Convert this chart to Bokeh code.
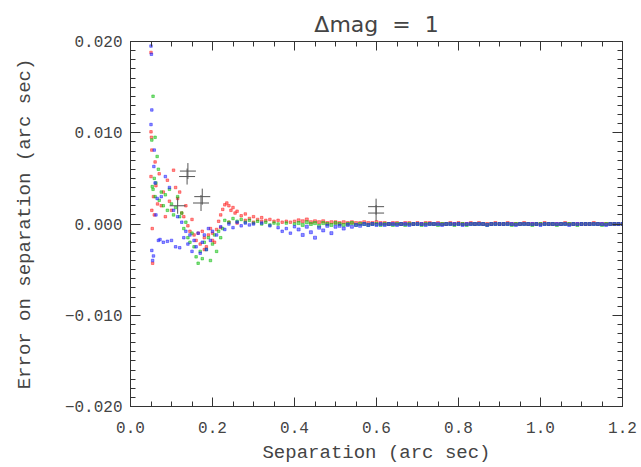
from bokeh.plotting import figure
from bokeh.models import LinearAxis, FixedTicker, CustomJSTickFormatter, Range1d
from bokeh.embed import file_html
from bokeh.resources import INLINE

# ---------------- data ----------------
red_x = [0.050, 0.050, 0.050, 0.051, 0.052, 0.052, 0.053, 0.054, 0.056, 0.058,
         0.060, 0.062, 0.066, 0.070, 0.075, 0.080, 0.085, 0.090, 0.095, 0.100,
         0.105, 0.110, 0.115, 0.120, 0.125, 0.130, 0.135, 0.140, 0.145, 0.150,
         0.155, 0.160, 0.165, 0.170, 0.175, 0.180, 0.185, 0.190, 0.195, 0.200,
         0.205, 0.210, 0.215, 0.220, 0.225, 0.230, 0.235, 0.240, 0.245, 0.250,
         0.255, 0.260, 0.270, 0.280, 0.290, 0.300, 0.310, 0.320, 0.330, 0.340,
         0.350, 0.360, 0.370, 0.380, 0.390, 0.400, 0.180, 0.200, 0.220, 0.240,
         0.260, 0.280, 0.300, 0.320]
red_y = [0.0188, 0.0101, 0.0052, 0.0095, 0.0081, 0.0015, -0.0005, -0.0043, 0.0030, 0.0010,
         0.0068, 0.0042, 0.0022, 0.0055, 0.0020, 0.0035, 0.0008, 0.0048, 0.0025, 0.0015,
         0.0059, 0.0040, 0.0028, 0.0035, 0.0012, 0.0008, 0.0020, -0.0002, -0.0008, 0.0005,
         -0.0012, -0.0018, -0.0010, -0.0022, -0.0008, -0.0015, -0.0025, -0.0012, -0.0005, -0.0010,
         -0.0020, -0.0006, 0.0003, 0.0010, 0.0016, 0.0021, 0.0023, 0.0020, 0.0015, 0.0018,
         0.0012, 0.0014, 0.0009, 0.0011, 0.0006, 0.0008, 0.0005, 0.0007, 0.0004, 0.0005,
         0.0003, 0.0004, 0.0002, 0.0003, 0.0002, 0.0003, -0.0028, -0.0018, -0.0004, 0.0002,
         0.0001, 0.0004, 0.0002, 0.0003]

green_x = [0.055, 0.052, 0.060, 0.053, 0.055, 0.058, 0.060, 0.062, 0.065, 0.068,
           0.070, 0.075, 0.080, 0.085, 0.090, 0.095, 0.100, 0.105, 0.110, 0.115,
           0.120, 0.125, 0.130, 0.135, 0.140, 0.145, 0.150, 0.155, 0.160, 0.165,
           0.170, 0.175, 0.180, 0.185, 0.190, 0.195, 0.200, 0.205, 0.210, 0.215,
           0.220, 0.225, 0.230, 0.240, 0.250, 0.260, 0.270, 0.280, 0.290, 0.300,
           0.310, 0.320, 0.330, 0.340, 0.350, 0.360, 0.380, 0.400]
green_y = [0.0140, 0.0092, 0.0095, 0.0041, 0.0038, 0.0050, 0.0030, 0.0045, 0.0074, 0.0060,
           0.0026, 0.0035, 0.0020, 0.0032, 0.0015, 0.0038, 0.0022, 0.0010, 0.0018, 0.0030,
           0.0008, 0.0012, -0.0005, 0.0002, -0.0015, -0.0020, -0.0010, -0.0025, -0.0036, -0.0043,
           -0.0030, -0.0038, -0.0020, -0.0028, -0.0015, -0.0040, -0.0022, -0.0012, -0.0030, -0.0008,
           -0.0015, -0.0005, 0.0004, 0.0002, 0.0006, 0.0003, 0.0005, 0.0002, 0.0004, 0.0001,
           0.0003, 0.0000, 0.0002, -0.0001, 0.0001, 0.0000, 0.0001, 0.0000]

blue_x = [0.050, 0.051, 0.052, 0.050, 0.052, 0.054, 0.056, 0.058, 0.057, 0.060,
          0.062, 0.065, 0.068, 0.072, 0.075, 0.080, 0.085, 0.090, 0.095, 0.100,
          0.105, 0.110, 0.115, 0.120, 0.125, 0.130, 0.135, 0.140, 0.145, 0.150,
          0.155, 0.160, 0.165, 0.170, 0.175, 0.180, 0.185, 0.190, 0.195, 0.200,
          0.210, 0.220, 0.230, 0.240, 0.250, 0.260, 0.270, 0.280, 0.290, 0.300,
          0.320, 0.340, 0.360, 0.370, 0.380, 0.390, 0.400]
blue_y = [0.0195, 0.0186, 0.0125, 0.0109, -0.0029, -0.0040, -0.0035, 0.0081, 0.0063, 0.0045,
          0.0010, 0.0028, -0.0018, -0.0017, 0.0030, -0.0020, 0.0052, -0.0019, 0.0040, -0.0018,
          0.0015, -0.0025, 0.0008, -0.0026, 0.0002, -0.0015, -0.0008, -0.0022, -0.0012, -0.0030,
          -0.0018, -0.0025, -0.0010, -0.0032, -0.0020, -0.0012, -0.0028, -0.0005, -0.0018, -0.0008,
          -0.0012, -0.0003, -0.0006, 0.0000, -0.0004, 0.0002, -0.0002, 0.0001, -0.0001, 0.0000,
          0.0001, -0.0002, -0.0004, -0.0008, -0.0005, -0.0010, -0.0003]

tail_x = [0.41, 0.42, 0.43, 0.44, 0.45, 0.46, 0.47, 0.48, 0.49, 0.50,
          0.51, 0.52, 0.53, 0.54, 0.55, 0.56, 0.57, 0.58, 0.59, 0.60,
          0.61, 0.62, 0.63, 0.64, 0.65, 0.66, 0.67, 0.68, 0.69, 0.70,
          0.71, 0.72, 0.73, 0.74, 0.75, 0.76, 0.77, 0.78, 0.79, 0.80,
          0.81, 0.82, 0.83, 0.84, 0.85, 0.86, 0.87, 0.88, 0.89, 0.90,
          0.91, 0.92, 0.93, 0.94, 0.95, 0.96, 0.97, 0.98, 0.99, 1.00,
          1.01, 1.02, 1.03, 1.04, 1.05, 1.06, 1.07, 1.08, 1.09, 1.10,
          1.11, 1.12, 1.13, 1.14, 1.15, 1.16, 1.17, 1.18, 1.19, 1.20]
red_tail = [0.0004, 0.0003, 0.0005, 0.0002, 0.0003, 0.0002, 0.0003, 0.0001, 0.0002, 0.0002,
            0.0001, 0.0002, 0.0001, 0.0002, 0.0001, 0.0001, 0.0002, 0.0001, 0.0001, 0.0002,
            0.0001, 0.0001, 0.0000, 0.0001, 0.0001, 0.0000, 0.0001, 0.0001, 0.0000, 0.0001,
            0.0000, 0.0001, 0.0001, 0.0000, 0.0001, 0.0000, 0.0000, 0.0001, 0.0000, 0.0001,
            0.0000, 0.0000, 0.0001, 0.0000, 0.0001, 0.0000, 0.0000, 0.0000, 0.0001, 0.0000,
            0.0000, 0.0001, 0.0000, 0.0000, 0.0000, 0.0001, 0.0000, 0.0000, 0.0000, 0.0000,
            0.0001, 0.0000, 0.0000, 0.0000, 0.0000, 0.0001, 0.0000, 0.0000, 0.0000, 0.0000,
            0.0000, 0.0000, 0.0001, 0.0000, 0.0000, 0.0000, 0.0000, 0.0000, 0.0000, 0.0000]
green_tail = [0.0001, -0.0001, 0.0002, 0.0000, 0.0001, -0.0002, 0.0001, 0.0000, -0.0001, 0.0001,
              0.0000, -0.0001, 0.0000, 0.0001, -0.0001, 0.0000, 0.0000, -0.0001, 0.0000, 0.0000,
              -0.0001, 0.0000, 0.0000, -0.0001, 0.0000, 0.0000, -0.0001, 0.0000, 0.0000, 0.0000,
              -0.0001, 0.0000, 0.0000, 0.0000, -0.0001, 0.0000, 0.0000, 0.0000, -0.0001, 0.0000,
              0.0000, -0.0001, 0.0000, 0.0000, 0.0000, 0.0000, -0.0001, 0.0000, 0.0000, 0.0000,
              0.0000, 0.0000, -0.0001, 0.0000, 0.0000, 0.0000, 0.0000, -0.0001, 0.0000, 0.0000,
              0.0000, 0.0000, 0.0000, -0.0001, 0.0000, 0.0000, 0.0000, 0.0000, -0.0001, 0.0000,
              0.0000, 0.0000, 0.0000, 0.0000, -0.0001, 0.0000, 0.0000, 0.0000, 0.0000, 0.0000]
blue_tail = [-0.0006, -0.0012, -0.0003, -0.0009, -0.0015, -0.0004, -0.0007, -0.0002, -0.0010, -0.0003,
             -0.0002, -0.0005, -0.0001, -0.0003, -0.0001, -0.0002, 0.0000, -0.0001, 0.0000, -0.0001,
             0.0000, -0.0001, 0.0000, 0.0000, -0.0001, 0.0000, 0.0000, -0.0001, 0.0000, 0.0000,
             0.0000, -0.0001, 0.0000, 0.0000, 0.0000, -0.0001, 0.0000, 0.0000, 0.0000, 0.0000,
             -0.0001, 0.0000, 0.0000, 0.0000, 0.0000, 0.0000, -0.0001, 0.0000, 0.0000, 0.0000,
             0.0000, 0.0000, 0.0000, -0.0001, 0.0000, 0.0000, 0.0000, 0.0000, 0.0000, -0.0001,
             0.0000, 0.0000, 0.0000, 0.0000, 0.0000, 0.0000, -0.0001, 0.0000, 0.0000, 0.0000,
             0.0000, 0.0000, 0.0000, 0.0000, 0.0000, -0.0001, 0.0000, 0.0000, 0.0000, 0.0000]

cross_x = [0.140, 0.138, 0.175, 0.172, 0.599, 0.599, 0.115]
cross_y = [0.0058, 0.0052, 0.0030, 0.0023, 0.0019, 0.0012, 0.0020]

x_ticks = [0.0, 0.2, 0.4, 0.6, 0.8, 1.0, 1.2]
y_ticks = [-0.020, -0.010, 0.000, 0.010, 0.020]

title_text = "\u0394mag\u00a0\u00a0=\u00a0\u00a01"
x_label = "Separation (arc sec)"
y_label = "Error on separation (arc sec)"

# ---------------- figure ----------------
TXT = "#444444"
LINE = "#333333"
MONO = "Liberation Mono"

x_minor = [round(i * 0.05, 2) for i in range(0, 25)]
y_minor = [round(i * 0.001, 3) for i in range(-20, 21)]

p = figure(width=640, height=466, output_backend="svg", toolbar_location=None,
           x_range=Range1d(0, 1.2), y_range=Range1d(-0.02, 0.02),
           min_border_left=130, min_border_right=18, min_border_top=41, min_border_bottom=58,
           background_fill_color="white", border_fill_color="white")
p.grid.visible = False
p.outline_line_color = LINE
p.outline_line_width = 1

p.title.text = title_text
p.title.align = "center"
p.title.text_font = "DejaVu Sans"
p.title.text_font_size = "22px"
p.title.text_font_style = "normal"
p.title.text_color = TXT
p.title.offset = -4
p.title.standoff = 9

xfmt = CustomJSTickFormatter(code="return (Math.abs(tick) < 1e-9 ? 0 : tick).toFixed(1);")
yfmt = CustomJSTickFormatter(code="var v = Math.abs(tick) < 1e-9 ? 0 : tick; return v.toFixed(3).replace('-', '\u2212');")

def style(ax, major_len, minor_len):
    ax.axis_line_color = LINE
    ax.major_tick_line_color = LINE
    ax.minor_tick_line_color = LINE
    ax.major_tick_in = major_len
    ax.major_tick_out = 0
    ax.minor_tick_in = minor_len
    ax.minor_tick_out = 0

xb = p.xaxis[0]
xb.ticker = FixedTicker(ticks=x_ticks, minor_ticks=x_minor)
xb.formatter = xfmt
style(xb, 9, 5)
xb.major_label_text_font = MONO
xb.major_label_text_font_size = "16px"
xb.major_label_text_color = TXT
xb.major_label_standoff = 15
xb.axis_label = x_label
xb.axis_label_text_font = MONO
xb.axis_label_text_font_size = "19px"
xb.axis_label_text_font_style = "normal"
xb.axis_label_text_color = TXT
xb.axis_label_standoff = 6

yl = p.yaxis[0]
yl.ticker = FixedTicker(ticks=y_ticks, minor_ticks=y_minor)
yl.formatter = yfmt
style(yl, 10, 5)
yl.major_label_text_font = MONO
yl.major_label_text_font_size = "16px"
yl.major_label_text_color = TXT
yl.major_label_standoff = 8
yl.axis_label = y_label
yl.axis_label_text_font = MONO
yl.axis_label_text_font_size = "19px"
yl.axis_label_text_font_style = "normal"
yl.axis_label_text_color = TXT
yl.axis_label_standoff = 26

xt = LinearAxis(ticker=FixedTicker(ticks=x_ticks, minor_ticks=x_minor),
                major_label_text_font_size="0px")
style(xt, 9, 5)
p.add_layout(xt, "above")
yr = LinearAxis(ticker=FixedTicker(ticks=y_ticks, minor_ticks=y_minor),
                major_label_text_font_size="0px")
style(yr, 10, 5)
p.add_layout(yr, "right")

S = 2.5
p.scatter(red_x, red_y, marker="square", size=S, color="#ff2020", alpha=0.5)
p.scatter(tail_x, red_tail, marker="square", size=3, color="#ff2020", alpha=0.5)
p.scatter(green_x, green_y, marker="square", size=S, color="#10c010", alpha=0.5)
p.scatter(tail_x, green_tail, marker="square", size=3, color="#10c010", alpha=0.5)
p.scatter(blue_x, blue_y, marker="square", size=S, color="#2020ff", alpha=0.5)
p.scatter(tail_x, blue_tail, marker="square", size=3, color="#2020ff", alpha=0.5)
p.scatter(cross_x, cross_y, marker="cross", size=16, line_color="#555555", line_width=1)

open("out.html", "w").write(file_html(p, INLINE))
